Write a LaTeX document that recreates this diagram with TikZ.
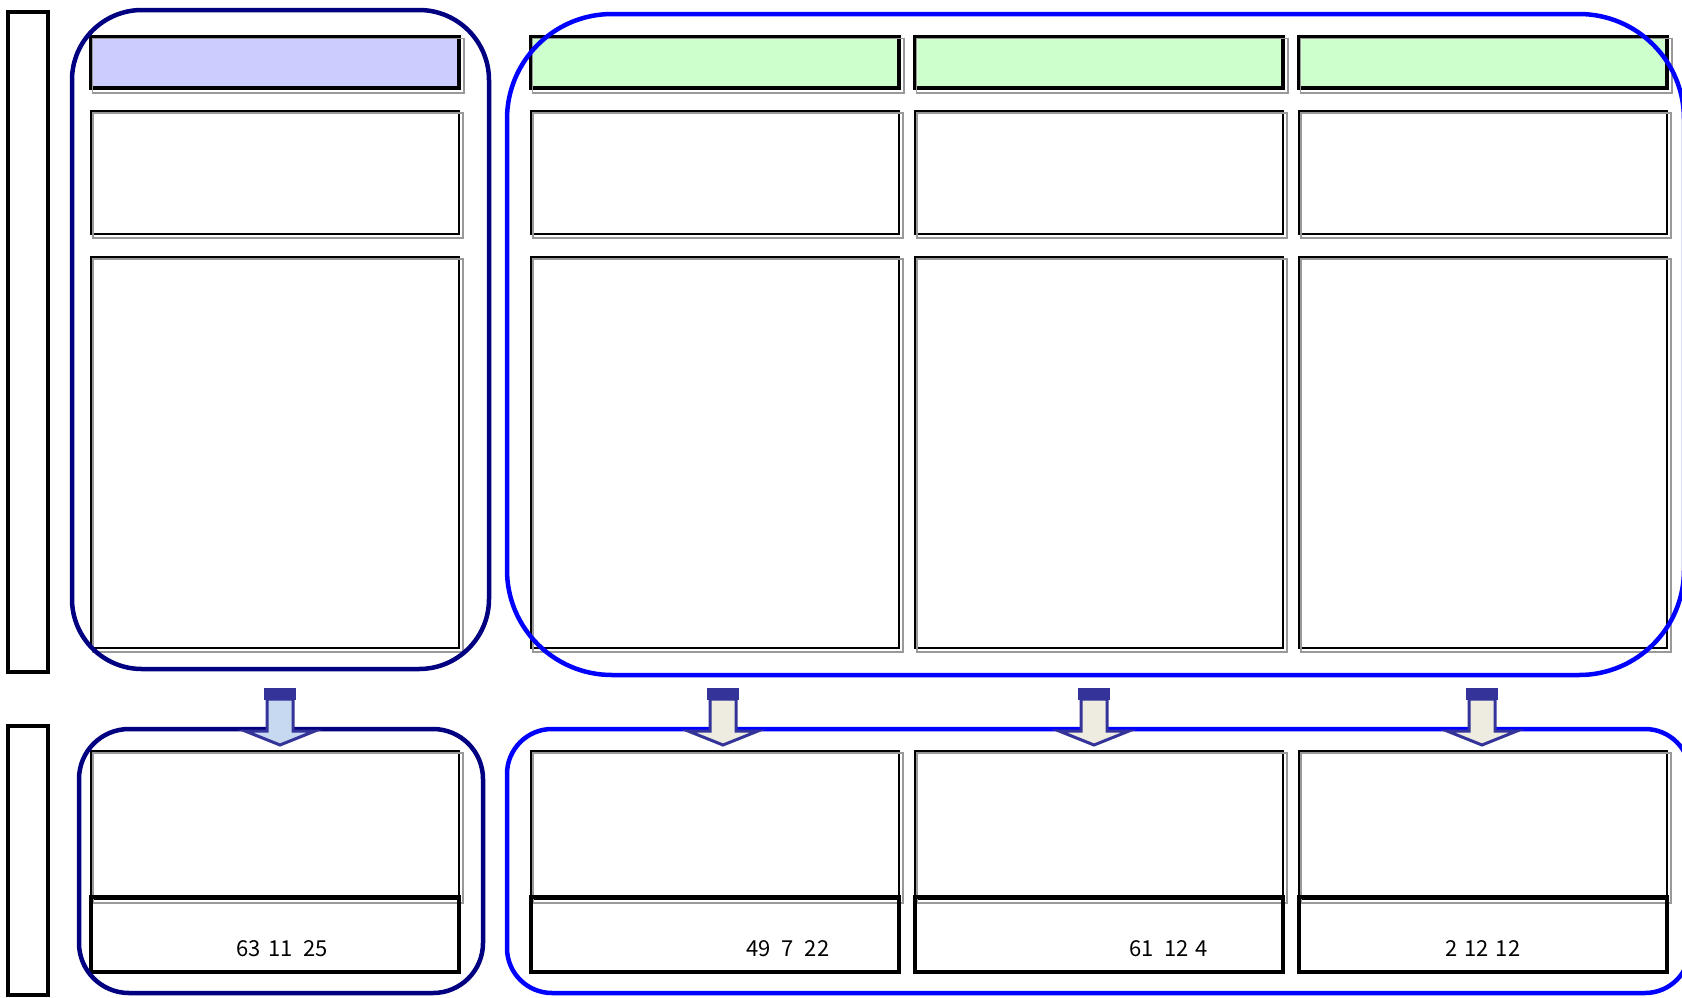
\documentclass[tikz,border=0pt]{standalone}
\usepackage{fontspec}
\setmainfont{Noto Sans CJK JP}
\definecolor{navyc}{HTML}{000080}
\definecolor{bluec}{HTML}{0000FF}
\definecolor{purplef}{HTML}{CCCCFF}
\definecolor{greenf}{HTML}{CCFFCC}
\definecolor{arrowline}{HTML}{333399}
\definecolor{arrowblue}{HTML}{C6D9F1}
\definecolor{arrowbeige}{HTML}{EEECE1}
\definecolor{shadowgray}{HTML}{999999}
\newcommand\shadowof[1]{\draw[shadowline] ([xshift=3pt,yshift=-3pt]#1.north west) rectangle ([xshift=3pt,yshift=-3pt]#1.south east);}
\newcommand\blockarrow[3]{%
  \coordinate (#1) at (#2,688);
  \filldraw[arrowline, line width=3pt, fill=#3, line join=miter]
    ([xshift=-13pt]#1) ++(0,11) -- ++(0,32) -- ++(-22,0) -- ++(35,14) -- ++(35,-14) -- ++(-22,0) -- ++(0,-32) -- cycle;
  \fill[arrowline] ([xshift=-16pt]#1) rectangle ([xshift=16pt,yshift=-12pt]#1);
}
\begin{document}
\begin{tikzpicture}[x=1pt,y=-1pt,
  hdr/.style={draw=black, line width=3.5pt, minimum width=368pt, minimum height=51pt, inner sep=0pt},
  cell/.style={draw=black, line width=2pt, minimum width=368pt, inner sep=0pt},
  foot/.style={draw=black, line width=3.5pt, minimum width=368pt, minimum height=75pt, inner sep=0pt},
  sidebar/.style={draw=black, line width=3.5pt, minimum width=40pt, inner sep=0pt},
  shadowline/.style={draw=shadowgray, line width=1.5pt},
  navygroup/.style={draw=navyc, line width=4.5pt, inner sep=0pt},
  bluegroup/.style={draw=bluec, line width=4.5pt, inner sep=0pt},
  num/.style={anchor=base west, inner sep=0pt, font=\fontsize{22}{26}\selectfont}
]
\useasboundingbox (0,0) rectangle (1682,997);

% side bars
\node[sidebar, minimum height=660pt] (bar1) at (28,342) {};
\node[sidebar, minimum height=269pt] (bar2) at (28,860.5) {};

% top section boxes
\foreach \n/\cx/\f in {a/275/purplef, b/715/greenf, c/1099/greenf, d/1483/greenf}{
  \node[hdr, fill=\f] (h\n) at (\cx,62.5) {};
  \shadowof{h\n}
  \node[cell, minimum height=123pt] (m\n) at (\cx,172.5) {};
  \shadowof{m\n}
  \node[cell, minimum height=391pt] (t\n) at (\cx,452.5) {};
  \shadowof{t\n}
  \node[cell, minimum height=148pt] (u\n) at (\cx,825) {};
  \shadowof{u\n}
  \node[foot] (f\n) at (\cx,934.5) {};
}

% group outlines
\node[navygroup, rounded corners=70pt, minimum width=417pt, minimum height=659pt] (gtl) at (280.5,339.5) {};
\node[bluegroup, rounded corners=105pt, minimum width=1177pt, minimum height=661pt] (gtr) at (1095.5,344.5) {};
\node[navygroup, rounded corners=50pt, minimum width=404pt, minimum height=264pt] (gbl) at (281,861) {};
\node[bluegroup, rounded corners=45pt, minimum width=1183pt, minimum height=264pt] (gbr) at (1098.5,861) {};

% block arrows
\blockarrow{ar1}{280}{arrowblue}
\blockarrow{ar2}{723}{arrowbeige}
\blockarrow{ar3}{1094}{arrowbeige}
\blockarrow{ar4}{1482}{arrowbeige}

% numbers
\node[num] (n1) at (236,956) {63\hspace{8pt}11\hspace{10pt}25};
\node[num] (n2) at (746,956) {49\hspace{11pt}7\hspace{11pt}22};
\node[num] (n3) at (1129,956) {61\hspace{11pt}12\hspace{6pt}4};
\node[num] (n4) at (1445,956) {2\hspace{7pt}12\hspace{7pt}12};
\end{tikzpicture}
\end{document}
